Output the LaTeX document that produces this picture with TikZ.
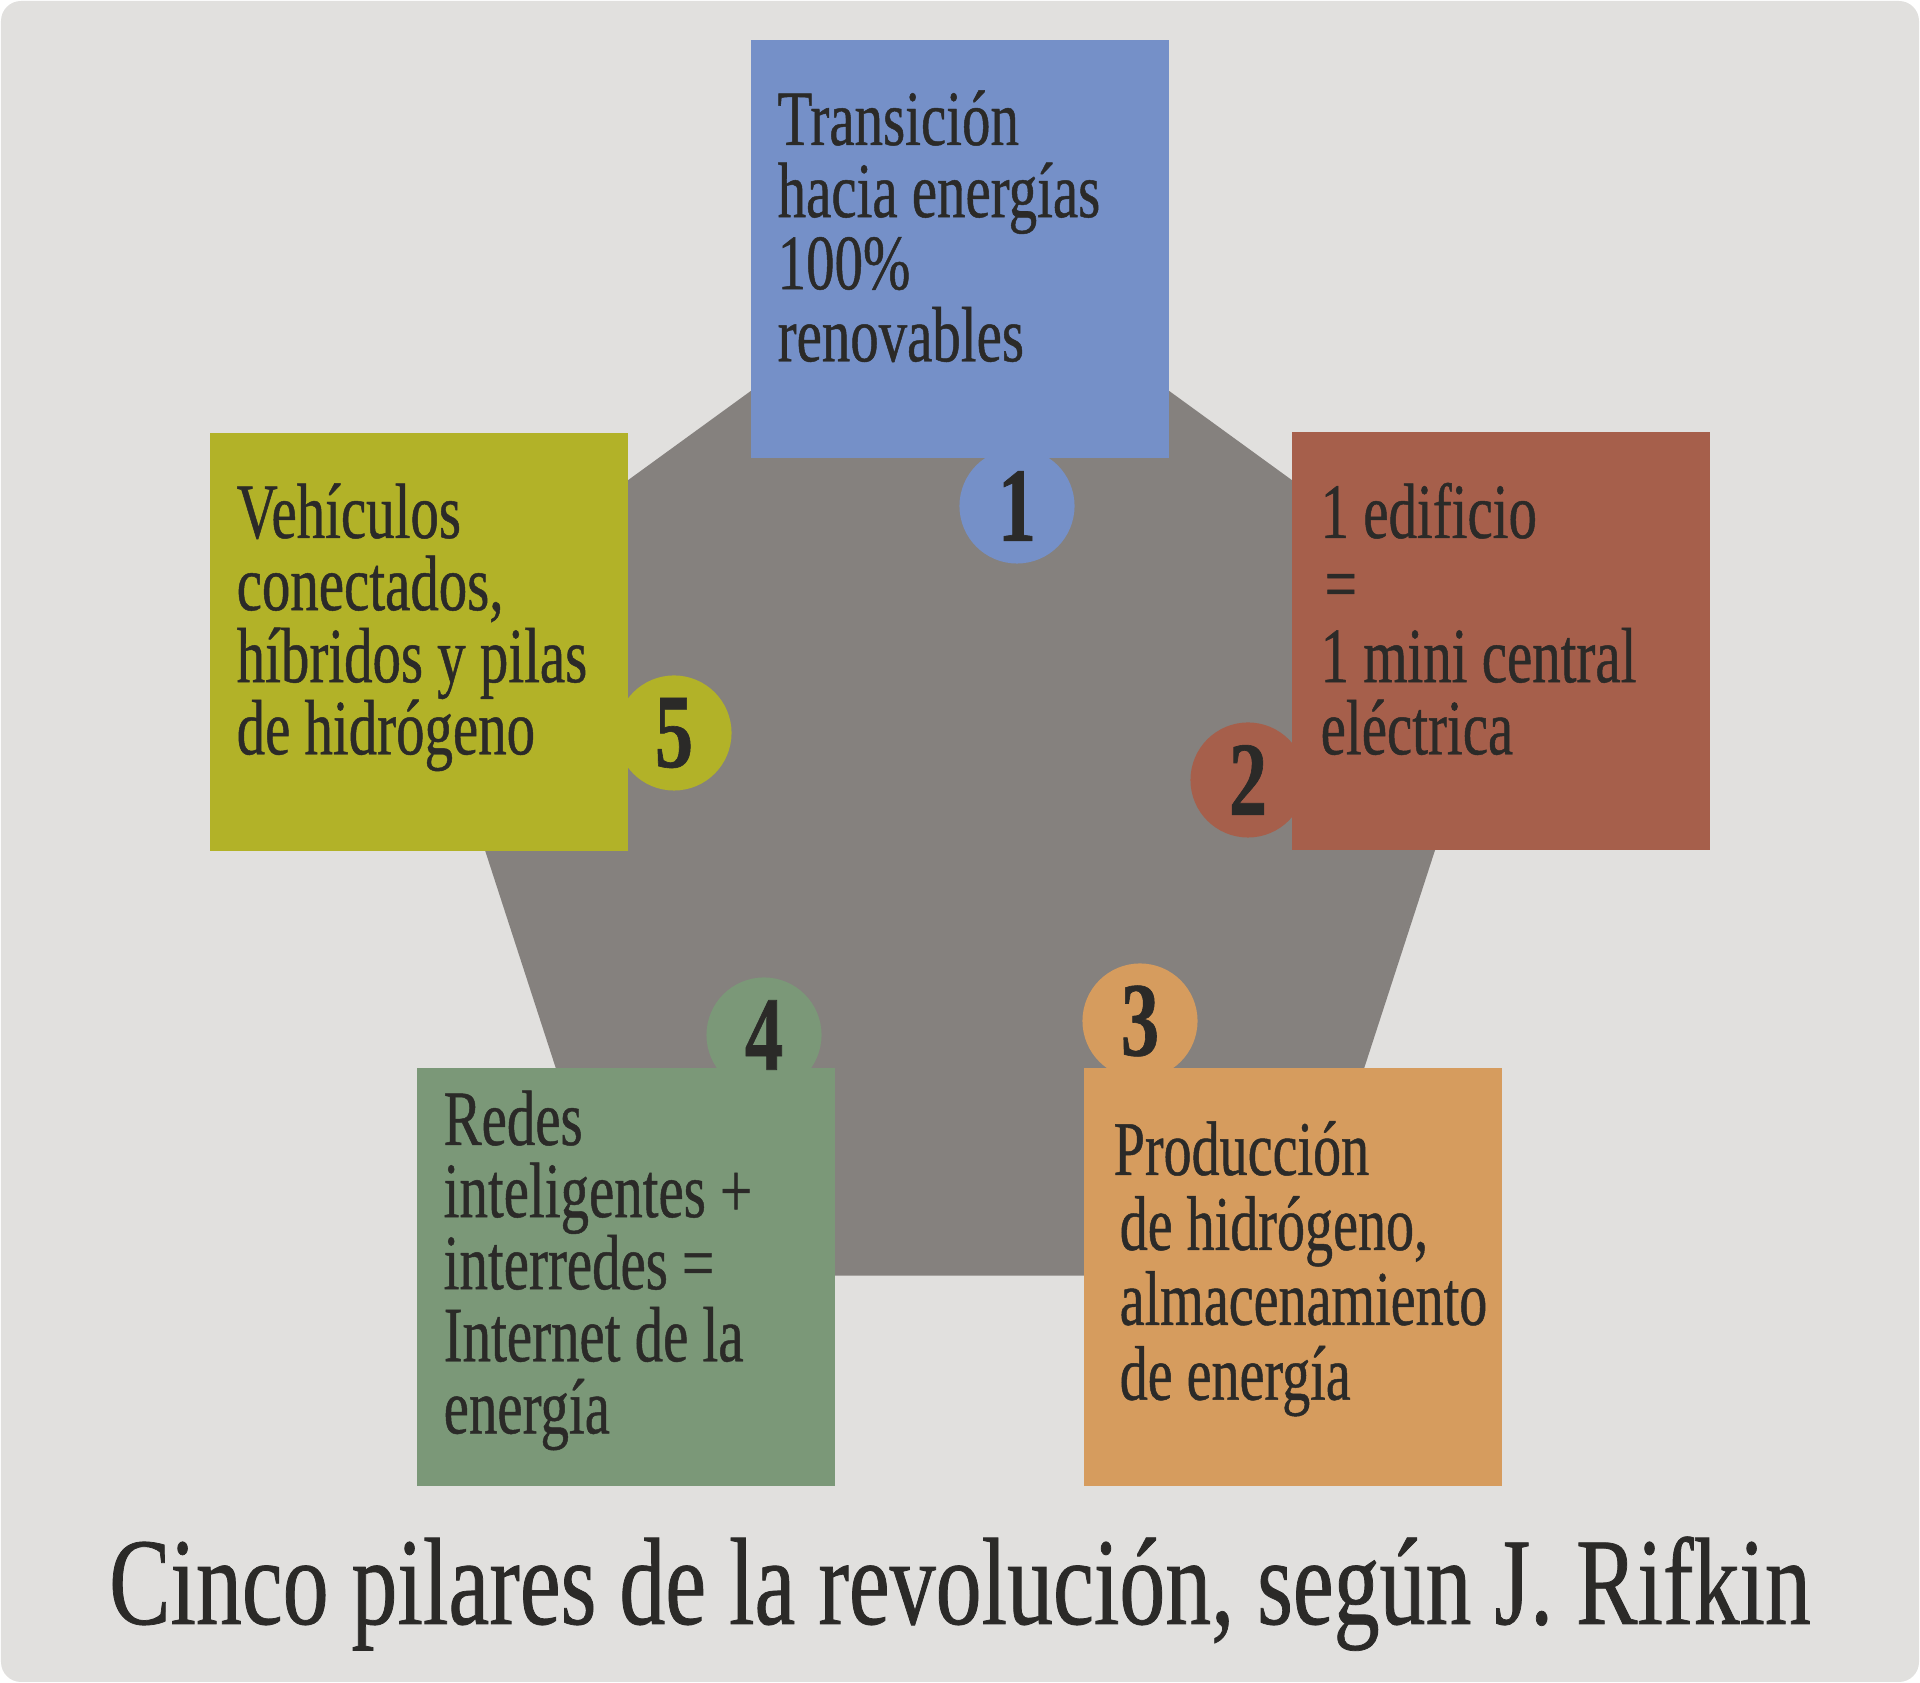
\documentclass[tikz,border=0pt]{standalone}
\usepackage{fontspec}
\setmainfont{Liberation Serif}[FakeStretch=0.725, FakeBold=0.6]
\newfontfamily\titulofont{Liberation Serif}[FakeStretch=0.74, FakeBold=0.6]
\usetikzlibrary{calc}
\definecolor{fondo}{HTML}{E1E0DE}
\definecolor{gris}{HTML}{85817E}
\definecolor{tinta}{HTML}{2B2A28}
\definecolor{azul}{HTML}{7590C8}
\definecolor{teja}{HTML}{A65F4B}
\definecolor{oliva}{HTML}{B2B228}
\definecolor{verde}{HTML}{7B9878}
\definecolor{ocre}{HTML}{D69C5E}
\def\lineas#1{\parbox[t]{4.1cm}{\raggedright\lineskiplimit=-10cm #1}}

\begin{document}
\begin{tikzpicture}[x=0.01cm, y=-0.01cm,
		pilar/.style={rectangle, inner sep=0pt, minimum size=4.18cm},
		numero/.style={circle, inner sep=0pt, minimum size=1.15cm, text=tinta, font=\fontsize{30}{30}\selectfont\bfseries},
		texto/.style={anchor=base west, inner sep=0pt, text=tinta, font=\fontsize{22.3}{20.5}\selectfont}]
			%%%%% START %%%%%
			\useasboundingbox (0,0) rectangle (1920,1683);
			\fill[fondo, rounded corners=0.2cm] (1,1) rectangle (1919,1682);
			
			% pentagono
			\fill[gris, shift={(960,812)}] (-90:573) -- (-18:573) -- (54:573) -- (126:573) -- (198:573) -- cycle;
			
			% pilares
			\node[pilar, fill=azul] (p1) at (960,249) {};
			\node[pilar, fill=teja] (p2) at (1501,641) {};
			\node[pilar, fill=ocre] (p3) at (1293,1277) {};
			\node[pilar, fill=verde] (p4) at (626,1277) {};
			\node[pilar, fill=oliva] (p5) at (419,642) {};
			
			\node[numero, fill=azul] (n1) at (1017,506) {1};
			\node[numero, fill=teja] (n2) at (1248,780) {2};
			\node[numero, fill=ocre] (n3) at (1140,1021) {3};
			\node[numero, fill=verde] (n4) at (764,1035) {4};
			\node[numero, fill=oliva] (n5) at (674,733) {5};
			
			\node[texto] (t1) at (777,145) {\lineas{Transición\\hacia energías\\100\%\\renovables}};
			\node[texto] (t2) at (1320,538) {\lineas{1 edificio\\\hspace*{0.04cm}=\\1 mini central\\eléctrica}};
			\node[texto, font=\fontsize{22}{21.3}\selectfont] (t3) at (1113,1175) {\lineas{Producción\\\hspace*{0.06cm}de hidrógeno,\\\hspace*{0.06cm}almacenamiento\\\hspace*{0.06cm}de energía}};
			\node[texto] (t4) at (443,1145) {\lineas{Redes\\inteligentes +\\interredes =\\Internet de la\\energía}};
			\node[texto] (t5) at (236,538) {\lineas{Vehículos\\conectados,\\híbridos y pilas\\de hidrógeno}};
			
			\node[anchor=base, inner sep=0pt, text=tinta, font=\titulofont\fontsize{35.3}{36}\selectfont] (titulo) at (960,1624) {Cinco pilares de la revolución, según J. Rifkin};
			%%%%% END %%%%%
\end{tikzpicture}
\end{document}
